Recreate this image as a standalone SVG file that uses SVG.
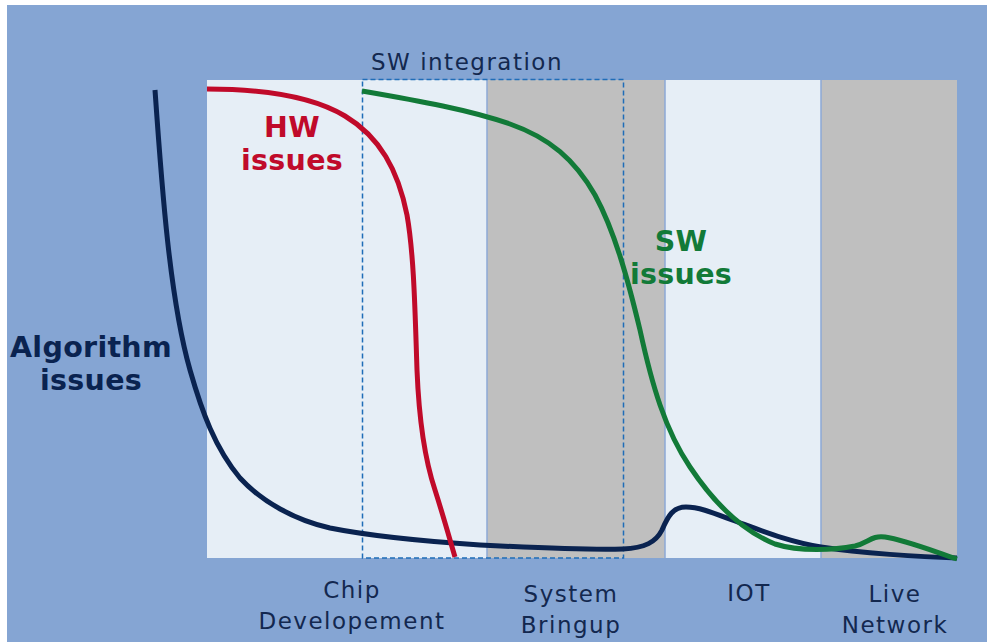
<svg xmlns="http://www.w3.org/2000/svg" width="987" height="642" viewBox="0 0 987 642">
  <style>
    .lbl { font-family: "DejaVu Sans", Verdana, sans-serif; font-size: 23px; letter-spacing: 1.5px; fill: #13284F; text-anchor: middle; }
    .big { font-family: "DejaVu Sans", Verdana, sans-serif; font-size: 28.5px; font-weight: bold; letter-spacing: 0.3px; text-anchor: middle; }
    .sep { stroke: #8DA9D6; stroke-width: 1.5; }
    .curve { fill: none; stroke-width: 5; stroke-linecap: butt; stroke-linejoin: round; }
  </style>

  <!-- page and backdrop -->
  <rect x="0" y="0" width="987" height="642" fill="#FFFFFF"/>
  <rect x="7" y="5" width="980" height="637" fill="#85A5D3"/>

  <!-- phase bands -->
  <g id="phases">
    <rect id="band-chip" x="207" y="80" width="280" height="478" fill="#E6EEF6"/>
    <rect id="band-bringup" x="487" y="80" width="178" height="478" fill="#BFBFBF"/>
    <rect id="band-iot" x="665" y="80" width="156" height="478" fill="#E6EEF6"/>
    <rect id="band-live" x="821" y="80" width="136" height="478" fill="#BFBFBF"/>
    <line class="sep" x1="487" y1="80" x2="487" y2="558"/>
    <line class="sep" x1="665" y1="80" x2="665" y2="558"/>
    <line class="sep" x1="821" y1="80" x2="821" y2="558"/>
  </g>

  <!-- SW integration window -->
  <g id="sw-integration">
    <rect x="362.5" y="79.5" width="261" height="478.5" fill="none" stroke="#1F6DB8" stroke-width="1.5" stroke-dasharray="5 3"/>
    <text class="lbl" x="467" y="70">SW integration</text>
  </g>

  <!-- issue curves -->
  <g id="connectors">
    <path id="algorithm-curve" class="curve" stroke="#0A2350"
      d="M155,90 C162,190 170,300 190,370 C202,412 215,448 240,478 C262,502 295,520 330,528 C365,535 420,541 480,545 C540,548 595,550 623,549 C645,548 656,542 662,530 C668,516 673,507 686,507 C700,507 716,514 735,521 C765,532 790,542 821,547 C860,553 920,557 957,558"/>
    <path id="hw-curve" class="curve" stroke="#C00A2A"
      d="M207,89 C260,89 310,95 345,116 C380,137 398,170 407,215 C414,255 415,310 417,370 C419,420 425,460 435,490 C443,515 450,540 455,557"/>
    <path id="sw-curve" class="curve" stroke="#127A38"
      d="M362,91 C420,101 470,110 510,124 C550,138 575,160 595,195 C615,232 628,280 640,330 C652,385 665,430 690,467 C712,500 740,530 775,544 C800,552 835,550 855,546 C868,543 872,535 885,537 C905,540 930,550 957,559"/>
  </g>

  <!-- curve labels -->
  <g id="hw-label">
    <text class="big" x="292" y="137" fill="#C00A2A">HW</text>
    <text class="big" x="292" y="170" fill="#C00A2A">issues</text>
  </g>
  <g id="sw-label">
    <text class="big" x="681" y="251" fill="#127A38">SW</text>
    <text class="big" x="681" y="284" fill="#127A38">issues</text>
  </g>
  <g id="algorithm-label">
    <text class="big" x="91" y="357" fill="#0A2350">Algorithm</text>
    <text class="big" x="91" y="390" fill="#0A2350">issues</text>
  </g>

  <!-- phase names -->
  <g id="chip-label">
    <text class="lbl" x="352" y="598">Chip</text>
    <text class="lbl" x="352" y="629">Developement</text>
  </g>
  <g id="bringup-label">
    <text class="lbl" x="571" y="602">System</text>
    <text class="lbl" x="571" y="633">Bringup</text>
  </g>
  <g id="iot-label">
    <text class="lbl" x="749" y="601">IOT</text>
  </g>
  <g id="live-label">
    <text class="lbl" x="895" y="602">Live</text>
    <text class="lbl" x="895" y="633">Network</text>
  </g>
</svg>
